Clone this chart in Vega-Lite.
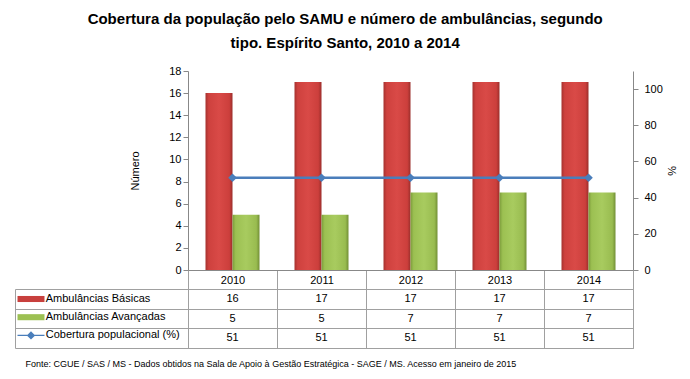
{
  "$schema": "https://vega.github.io/schema/vega-lite/v6.json",
  "background": "white",
  "padding": {"left": 14, "top": 12, "right": 5, "bottom": 5},
  "title": {
    "text": ["Cobertura da população pelo SAMU e número de ambulâncias, segundo", "tipo. Espírito Santo, 2010 a 2014"],
    "anchor": "middle",
    "font": "Liberation Sans",
    "fontSize": 15,
    "fontWeight": "bold",
    "lineHeight": 24,
    "offset": 14,
    "color": "#000000"
  },
  "datasets": {
    "amb": [
      {"ano": "2010", "serie": "Ambulâncias Básicas", "valor": 16},
      {"ano": "2011", "serie": "Ambulâncias Básicas", "valor": 17},
      {"ano": "2012", "serie": "Ambulâncias Básicas", "valor": 17},
      {"ano": "2013", "serie": "Ambulâncias Básicas", "valor": 17},
      {"ano": "2014", "serie": "Ambulâncias Básicas", "valor": 17},
      {"ano": "2010", "serie": "Ambulâncias Avançadas", "valor": 5},
      {"ano": "2011", "serie": "Ambulâncias Avançadas", "valor": 5},
      {"ano": "2012", "serie": "Ambulâncias Avançadas", "valor": 7},
      {"ano": "2013", "serie": "Ambulâncias Avançadas", "valor": 7},
      {"ano": "2014", "serie": "Ambulâncias Avançadas", "valor": 7}
    ],
    "cob": [
      {"ano": "2010", "serie": "Cobertura populacional (%)", "valor": 51},
      {"ano": "2011", "serie": "Cobertura populacional (%)", "valor": 51},
      {"ano": "2012", "serie": "Cobertura populacional (%)", "valor": 51},
      {"ano": "2013", "serie": "Cobertura populacional (%)", "valor": 51},
      {"ano": "2014", "serie": "Cobertura populacional (%)", "valor": 51}
    ],
    "tab": [
      {"ano": "2010", "linha": "Ambulâncias Básicas", "valor": 16},
      {"ano": "2011", "linha": "Ambulâncias Básicas", "valor": 17},
      {"ano": "2012", "linha": "Ambulâncias Básicas", "valor": 17},
      {"ano": "2013", "linha": "Ambulâncias Básicas", "valor": 17},
      {"ano": "2014", "linha": "Ambulâncias Básicas", "valor": 17},
      {"ano": "2010", "linha": "Ambulâncias Avançadas", "valor": 5},
      {"ano": "2011", "linha": "Ambulâncias Avançadas", "valor": 5},
      {"ano": "2012", "linha": "Ambulâncias Avançadas", "valor": 7},
      {"ano": "2013", "linha": "Ambulâncias Avançadas", "valor": 7},
      {"ano": "2014", "linha": "Ambulâncias Avançadas", "valor": 7},
      {"ano": "2010", "linha": "Cobertura populacional (%)", "valor": 51},
      {"ano": "2011", "linha": "Cobertura populacional (%)", "valor": 51},
      {"ano": "2012", "linha": "Cobertura populacional (%)", "valor": 51},
      {"ano": "2013", "linha": "Cobertura populacional (%)", "valor": 51},
      {"ano": "2014", "linha": "Cobertura populacional (%)", "valor": 51}
    ]
  },
  "spacing": 19,
  "bounds": "flush",
  "vconcat": [
    {
      "width": 445,
      "height": 199,
      "view": {"stroke": null},
      "layer": [
        {
          "data": {"name": "amb"},
          "layer": [
            {
              "transform": [{"filter": "datum.serie == 'Ambulâncias Básicas'"}],
              "mark": {
                "type": "bar",
                "fill": {"gradient": "linear", "x1": 0, "x2": 1, "y1": 0, "y2": 0,
                  "stops": [
                    {"offset": 0, "color": "#A5322F"},
                    {"offset": 0.12, "color": "#CE413E"},
                    {"offset": 0.5, "color": "#D94A47"},
                    {"offset": 0.88, "color": "#CC3F3C"},
                    {"offset": 1, "color": "#9B2E2B"}
                  ]},
                "strokeWidth": 0
              },
              "encoding": {
                "x": {"field": "ano", "type": "nominal", "sort": null},
                "xOffset": {"field": "serie", "type": "nominal", "scale": {"domain": ["Ambulâncias Básicas", "Ambulâncias Avançadas"], "paddingInner": 0, "paddingOuter": 0.648}},
                "y": {"field": "valor", "type": "quantitative"}
              }
            },
            {
              "transform": [{"filter": "datum.serie == 'Ambulâncias Avançadas'"}],
              "mark": {
                "type": "bar",
                "fill": {"gradient": "linear", "x1": 0, "x2": 1, "y1": 0, "y2": 0,
                  "stops": [
                    {"offset": 0, "color": "#7C9C3B"},
                    {"offset": 0.12, "color": "#9CC052"},
                    {"offset": 0.5, "color": "#A8CB5F"},
                    {"offset": 0.88, "color": "#99BC50"},
                    {"offset": 1, "color": "#728F36"}
                  ]},
                "strokeWidth": 0
              },
              "encoding": {
                "x": {"field": "ano", "type": "nominal", "sort": null},
                "xOffset": {"field": "serie", "type": "nominal", "scale": {"domain": ["Ambulâncias Básicas", "Ambulâncias Avançadas"], "paddingInner": 0, "paddingOuter": 0.648}},
                "y": {"field": "valor", "type": "quantitative"}
              }
            }
          ],
          "encoding": {
            "x": {"field": "ano", "type": "nominal", "sort": null,
              "scale": {"paddingInner": 0, "paddingOuter": 0},
              "axis": {"title": null, "labelAngle": 0, "tickBand": "extent", "tickSize": 19, "labelPadding": -15, "domainColor": "#888888", "tickColor": "#A0A0A0"}},
            "y": {"field": "valor", "type": "quantitative",
              "scale": {"domain": [0, 18], "nice": false},
              "axis": {"title": "Número", "values": [0, 2, 4, 6, 8, 10, 12, 14, 16, 18], "grid": false, "domainColor": "#888888", "tickColor": "#888888", "tickSize": 5, "titlePadding": 28}}
          }
        },
        {
          "data": {"name": "cob"},
          "mark": {"type": "line", "color": "#4A7EBB", "strokeWidth": 2.5,
            "point": {"shape": "diamond", "size": 75, "filled": true, "color": "#4A7EBB"}},
          "encoding": {
            "x": {"field": "ano", "type": "nominal", "sort": null},
            "y": {"field": "valor", "type": "quantitative",
              "scale": {"domain": [0, 110], "nice": false},
              "axis": {"title": "%", "orient": "right", "values": [0, 20, 40, 60, 80, 100], "grid": false, "domainColor": "#888888", "tickColor": "#888888", "tickSize": 5, "labelPadding": 6, "titlePadding": 3}},
            "color": {"field": "serie", "type": "nominal",
              "scale": {"domain": ["Ambulâncias Básicas", "Ambulâncias Avançadas", "Cobertura populacional (%)"], "range": ["#C8403D", "#9CC052", "#4A7EBB"]},
              "legend": {
                "orient": "none", "legendX": -164, "legendY": 221, "title": null,
                "symbolSize": 182, "rowPadding": 6.2, "labelOffset": 7.75, "padding": 0,
                "labelFontSize": 11, "labelColor": "#000000", "labelFont": "Liberation Sans",
                "symbolStrokeWidth": 0,
                "encode": {"symbols": {"update": {
                  "shape": {"signal": "datum.value === 'Cobertura populacional (%)' ? 'M-2,-0.1H2V0.1H-2Z M0,-0.62L0.62,0L0,0.62L-0.62,0Z' : 'M-2,-0.45H2V0.45H-2Z'"},
                  "fill": {"scale": "color", "field": "value"},
                  "stroke": {"value": "transparent"}
                }}}
              }}
          }
        }
      ],
      "resolve": {"scale": {"y": "independent"}}
    },
    {
      "width": 445,
      "height": 59,
      "view": {"stroke": "#A0A0A0"},
      "data": {"name": "tab"},
      "mark": {"type": "text", "font": "Liberation Sans", "fontSize": 11, "color": "#000000"},
      "encoding": {
        "x": {"field": "ano", "type": "nominal", "sort": null,
          "scale": {"paddingInner": 0, "paddingOuter": 0},
          "axis": {"labels": false, "ticks": false, "domain": false, "grid": true, "tickBand": "extent", "gridColor": "#A0A0A0",
            "title": "Fonte: CGUE / SAS / MS - Dados obtidos na Sala de Apoio à Gestão Estratégica - SAGE / MS. Acesso em janeiro de 2015",
            "titleFont": "Liberation Sans", "titleFontSize": 9, "titleFontWeight": "normal", "titleColor": "#000000",
            "titleAnchor": "start", "titleAlign": "left", "titleX": -163, "titleBaseline": "top", "titlePadding": 11}},
        "y": {"field": "linha", "type": "nominal",
          "sort": ["Ambulâncias Básicas", "Ambulâncias Avançadas", "Cobertura populacional (%)"],
          "scale": {"paddingInner": 0, "paddingOuter": 0},
          "axis": {"title": null, "labels": false, "domain": true, "domainColor": "#A0A0A0", "offset": 173, "ticks": true, "tickSize": -173, "tickBand": "extent", "tickColor": "#A0A0A0", "grid": true, "gridColor": "#A0A0A0"}},
        "text": {"field": "valor", "type": "quantitative"}
      }
    }
  ],
  "config": {
    "font": "Liberation Sans",
    "axis": {"labelFont": "Liberation Sans", "labelFontSize": 11, "labelColor": "#000000", "titleFont": "Liberation Sans", "titleFontSize": 11, "titleFontWeight": "normal", "titleColor": "#000000"}
  }
}
